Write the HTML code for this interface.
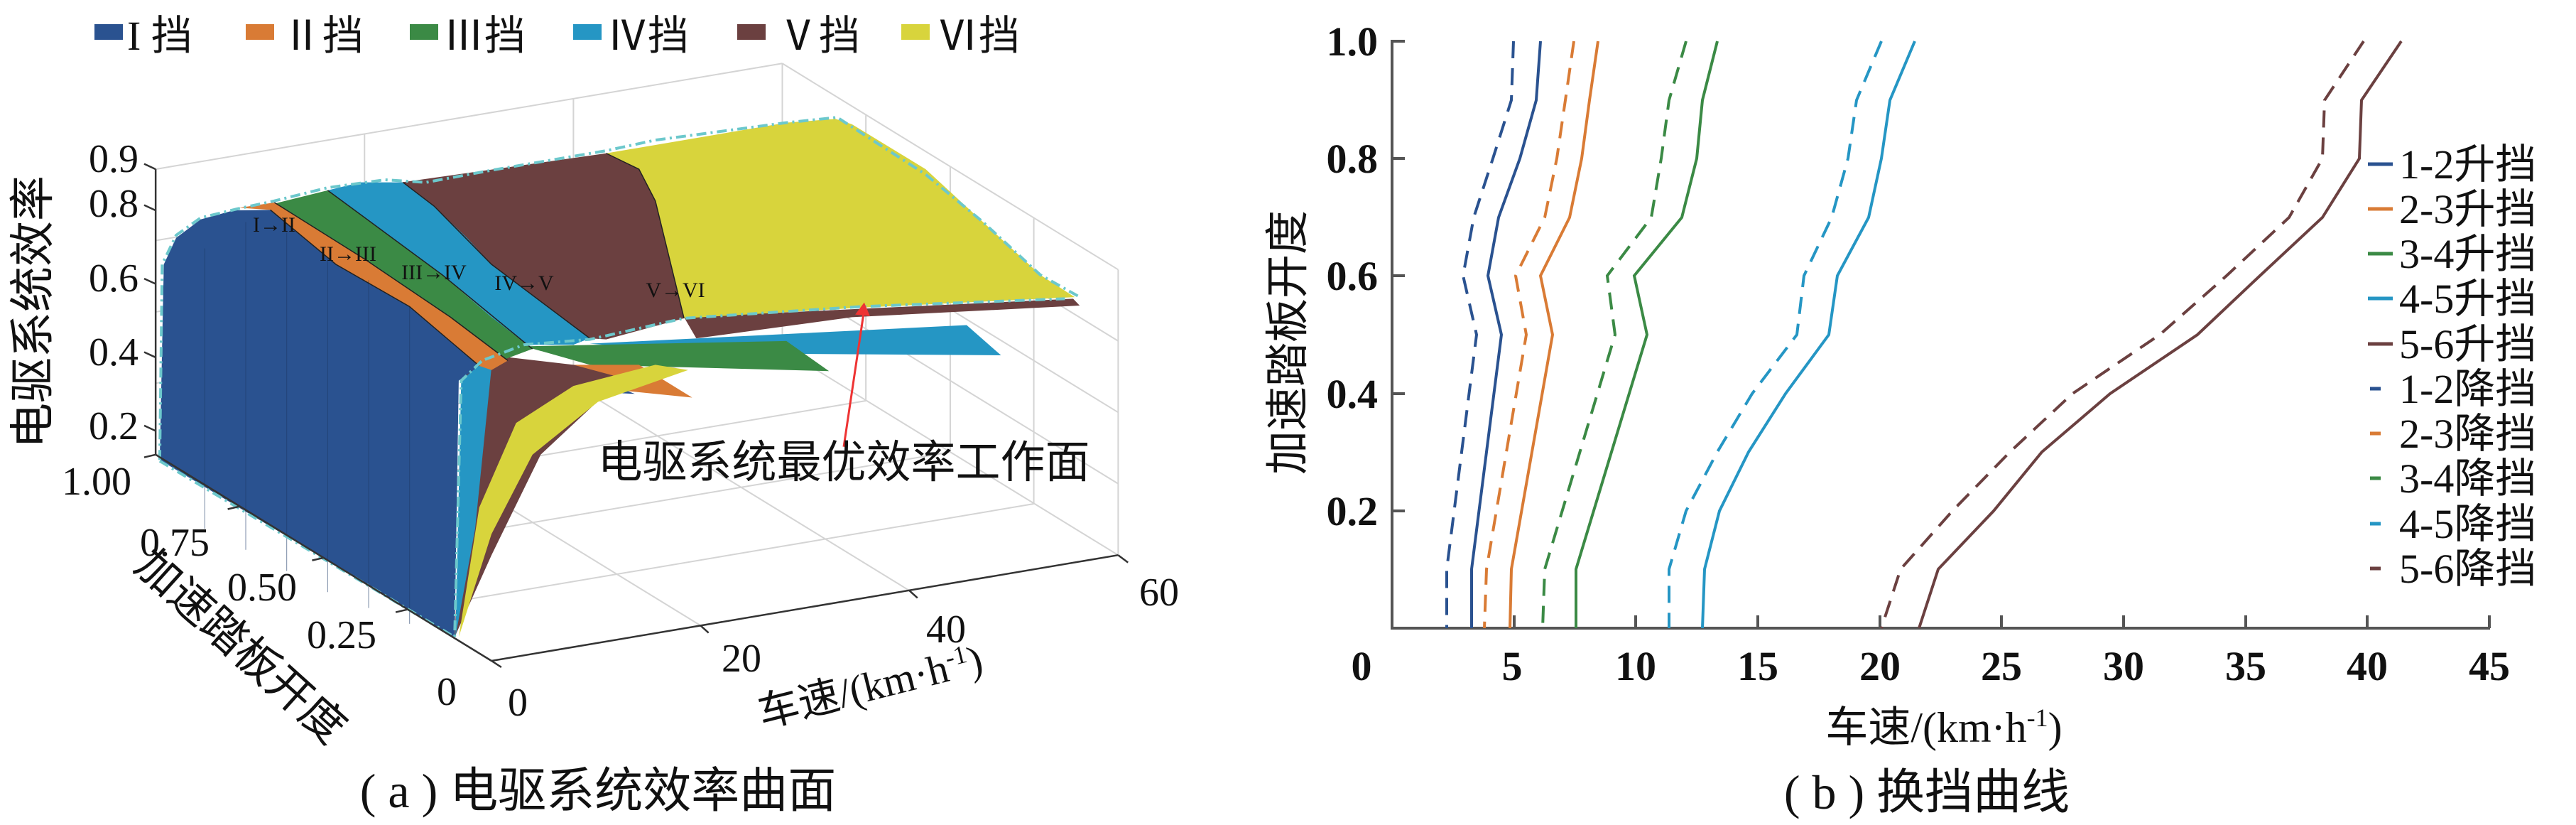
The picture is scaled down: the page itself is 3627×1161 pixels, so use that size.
<!DOCTYPE html>
<html><head><meta charset="utf-8"><style>
html,body{margin:0;padding:0;background:#fff;}
svg{display:block;}
text{font-family:"Liberation Serif","Noto Serif CJK SC","Noto Sans CJK SC",serif;fill:#111;}
.cj{font-family:"Liberation Serif","Noto Sans CJK SC",sans-serif;}
</style></head><body>
<svg width="3627" height="1161" viewBox="0 0 3627 1161" xmlns="http://www.w3.org/2000/svg">
<rect width="3627" height="1161" fill="#fff"/>
<g transform="scale(1.1534,0.744)">
 <g stroke="#d4d4d4" stroke-width="2" fill="none">
  <line x1="190" y1="320" x2="955" y2="120" vector-effect="non-scaling-stroke"/>
  <line x1="955" y1="120" x2="955" y2="660" vector-effect="non-scaling-stroke"/>
  <line x1="955" y1="120" x2="1365" y2="510" vector-effect="non-scaling-stroke"/>
  <line x1="1365" y1="510" x2="1365" y2="1050" vector-effect="non-scaling-stroke"/>
  <line x1="955" y1="660" x2="1365" y2="1050" vector-effect="non-scaling-stroke"/>
  <line x1="190" y1="860" x2="955" y2="660" vector-effect="non-scaling-stroke"/>
  <line x1="445" y1="793" x2="855" y2="1183" vector-effect="non-scaling-stroke"/>
  <line x1="700" y1="727" x2="1110" y2="1117" vector-effect="non-scaling-stroke"/>
  <line x1="445" y1="253" x2="445" y2="793" vector-effect="non-scaling-stroke"/>
  <line x1="700" y1="187" x2="700" y2="727" vector-effect="non-scaling-stroke"/>
  <line x1="292" y1="958" x2="1057" y2="758" vector-effect="non-scaling-stroke"/>
  <line x1="395" y1="1055" x2="1160" y2="855" vector-effect="non-scaling-stroke"/>
  <line x1="497" y1="1153" x2="1262" y2="953" vector-effect="non-scaling-stroke"/>
  <line x1="1057" y1="218" x2="1057" y2="758" vector-effect="non-scaling-stroke"/>
  <line x1="1160" y1="315" x2="1160" y2="855" vector-effect="non-scaling-stroke"/>
  <line x1="1262" y1="413" x2="1262" y2="953" vector-effect="non-scaling-stroke"/>
  <line x1="955" y1="525" x2="1365" y2="915" vector-effect="non-scaling-stroke"/>
  <line x1="955" y1="390" x2="1365" y2="780" vector-effect="non-scaling-stroke"/>
  <line x1="955" y1="255" x2="1365" y2="645" vector-effect="non-scaling-stroke"/>
  <line x1="190" y1="725" x2="955" y2="525" vector-effect="non-scaling-stroke"/>
  <line x1="190" y1="590" x2="955" y2="390" vector-effect="non-scaling-stroke"/>
  <line x1="190" y1="455" x2="955" y2="255" vector-effect="non-scaling-stroke"/>
 </g>
 <polygon points="835,600 1310,565 1318,578 1040,600 850,640" fill="#6b4040"/>
 <polygon points="720,650 1180,615 1222,672 860,668" fill="#2596c4"/>
 <polygon points="640,655 960,645 1012,702 720,690" fill="#3b8a45"/>
 <polygon points="600,690 780,690 845,752 640,720" fill="#d97b35"/>
 <polygon points="600,700 700,700 775,745 640,735" fill="#2a5290"/>
 <polygon points="555,1205 570,700 600,672 700,690 760,715 660,860 600,1050" fill="#6b4040"/>
 <polygon points="556,1205 563,720 585,690 600,695 580,1000" fill="#2596c4"/>
 <polygon points="560,1205 600,1010 650,860 730,760 840,700 800,690 700,730 630,800 585,960" fill="#d8d43c"/>
 <polygon points="740,290 960,232 1020,225 1040,235 1130,320 1200,420 1270,520 1312,562 1050,582 835,602 800,380 780,320" fill="#d8d43c"/>
 <polygon points="490,345 740,290 780,320 800,380 835,602 740,642 720,640 660,570 600,500 530,390" fill="#6b4040"/>
 <polygon points="400,360 440,345 492,345 530,390 570,450 600,500 660,570 720,640 700,652 640,652 600,600 540,520 470,440" fill="#2596c4"/>
 <polygon points="335,385 400,360 470,440 540,520 600,600 650,660 612,682 540,600 445,490" fill="#3b8a45"/>
 <polygon points="292,393 335,383 445,490 550,600 620,682 600,700 585,692 500,580 410,500 330,397" fill="#d97b35"/>
 <polygon points="195,870 200,500 215,450 245,415 285,398 330,397 410,500 500,580 585,692 560,720 555,1205" fill="#2a5290"/>
 <g stroke="#1e3a68" stroke-width="1" fill="none" opacity="0.6">
  <path d="M250,1000 V470" vector-effect="non-scaling-stroke"/><path d="M300,1040 V420" vector-effect="non-scaling-stroke"/>
  <path d="M350,1080 V440" vector-effect="non-scaling-stroke"/><path d="M400,1120 V490" vector-effect="non-scaling-stroke"/>
  <path d="M450,1150 V530" vector-effect="non-scaling-stroke"/><path d="M500,1180 V580" vector-effect="non-scaling-stroke"/>
 </g>
 <g stroke="#222" stroke-width="1.5" fill="none">
  <polyline points="330,397 410,500 500,580 585,692" vector-effect="non-scaling-stroke"/>
  <polyline points="335,383 445,490 550,600 620,682" vector-effect="non-scaling-stroke"/>
  <polyline points="400,360 470,440 540,520 650,660" vector-effect="non-scaling-stroke"/>
  <polyline points="492,345 530,390 600,500 720,640" vector-effect="non-scaling-stroke"/>
  <polyline points="740,290 780,320 800,380 835,602" vector-effect="non-scaling-stroke"/>
 </g>
 <g stroke="#6cc8cc" stroke-width="4" fill="none" stroke-dasharray="14,6,3,6">
  <polyline points="195,870 198,500 215,445 245,412 290,395 335,380 400,355 470,340 520,345 600,322 740,285 800,265 960,232 1022,222 1060,260 1130,330 1200,420 1270,520 1316,560" vector-effect="non-scaling-stroke"/>
  <polyline points="592,680 640,652 720,642 835,602 1050,580 1300,565" vector-effect="non-scaling-stroke"/>
  <polyline points="195,872 555,1205 563,720 590,680" vector-effect="non-scaling-stroke"/>
 </g>
 <g stroke="#333" stroke-width="2.5" fill="none">
  <line x1="190" y1="320" x2="190" y2="860" vector-effect="non-scaling-stroke"/>
  <line x1="190" y1="860" x2="600" y2="1250" vector-effect="non-scaling-stroke"/>
  <line x1="600" y1="1250" x2="1365" y2="1050" vector-effect="non-scaling-stroke"/>
  <line x1="600" y1="1250" x2="612" y2="1262" vector-effect="non-scaling-stroke"/>
  <line x1="855" y1="1183" x2="865" y2="1197" vector-effect="non-scaling-stroke"/>
  <line x1="1110" y1="1117" x2="1120" y2="1131" vector-effect="non-scaling-stroke"/>
  <line x1="1365" y1="1050" x2="1377" y2="1064" vector-effect="non-scaling-stroke"/>
  <line x1="190" y1="860" x2="176" y2="865" vector-effect="non-scaling-stroke"/>
  <line x1="292" y1="958" x2="278" y2="963" vector-effect="non-scaling-stroke"/>
  <line x1="395" y1="1055" x2="381" y2="1060" vector-effect="non-scaling-stroke"/>
  <line x1="497" y1="1153" x2="483" y2="1158" vector-effect="non-scaling-stroke"/>
  <line x1="190" y1="320" x2="176" y2="310" vector-effect="non-scaling-stroke"/>
  <line x1="190" y1="398" x2="176" y2="388" vector-effect="non-scaling-stroke"/>
  <line x1="190" y1="537" x2="176" y2="527" vector-effect="non-scaling-stroke"/>
  <line x1="190" y1="676" x2="176" y2="666" vector-effect="non-scaling-stroke"/>
  <line x1="190" y1="815" x2="176" y2="805" vector-effect="non-scaling-stroke"/>
 </g>
 <line x1="1030" y1="845" x2="1055" y2="585" stroke="#e33" stroke-width="3" vector-effect="non-scaling-stroke"/>
 <polygon points="1044,595 1055,572 1062,598" fill="#e33"/>
</g>
<g font-size="58">
 <rect x="133" y="34" width="40" height="22" fill="#2a5290"/><text x="179" y="70" class="cj">I 挡</text>
 <rect x="346" y="34" width="40" height="22" fill="#d97b35"/><text x="396" y="70" class="cj">Ⅱ挡</text>
 <rect x="577" y="34" width="40" height="22" fill="#3b8a45"/><text x="624" y="70" class="cj">Ⅲ挡</text>
 <rect x="807" y="34" width="40" height="22" fill="#2596c4"/><text x="854" y="70" class="cj">Ⅳ挡</text>
 <rect x="1038" y="34" width="40" height="22" fill="#6b4040"/><text x="1095" y="70" class="cj">Ⅴ挡</text>
 <rect x="1269" y="34" width="40" height="22" fill="#d8d43c"/><text x="1320" y="70" class="cj">Ⅵ挡</text>
</g>
<g font-size="56" text-anchor="end">
 <text x="195" y="242">0.9</text><text x="195" y="305">0.8</text><text x="195" y="410">0.6</text>
 <text x="195" y="514">0.4</text><text x="195" y="618">0.2</text>
 <text x="185" y="696">1.00</text><text x="295" y="782">0.75</text><text x="418" y="845">0.50</text>
 <text x="530" y="912">0.25</text>
</g>
<g font-size="56" text-anchor="middle">
 <text x="629" y="992">0</text><text x="729" y="1007">0</text><text x="1044" y="945">20</text>
 <text x="1332" y="904">40</text><text x="1632" y="852">60</text>
</g>
<g font-size="30" text-anchor="middle">
 <text x="386" y="326">I→II</text><text x="490" y="367">II→III</text><text x="611" y="393">III→IV</text>
 <text x="738" y="408">IV→V</text><text x="951" y="418">V→VI</text>
</g>
<text class="cj" x="1188" y="672" font-size="63" text-anchor="middle">电驱系统最优效率工作面</text>
<text class="cj" font-size="64" text-anchor="middle" transform="translate(68,439) rotate(-90)">电驱系统效率</text>
<text class="cj" font-size="62" text-anchor="middle" transform="translate(325,925) rotate(42)">加速踏板开度</text>
<text class="cj" font-size="58" text-anchor="middle" transform="translate(1230,985) rotate(-14)">车速/(km·h<tspan font-size="36" dy="-20">-1</tspan><tspan dy="20">)</tspan></text>
<text class="cj" x="842" y="1136" font-size="68" text-anchor="middle">( a ) 电驱系统效率曲面</text>

<g stroke="#555" stroke-width="4" fill="none">
 <line x1="1960" y1="56" x2="1960" y2="886"/>
 <line x1="1958" y1="884" x2="3506" y2="884"/>
 <line x1="1960" y1="58" x2="1978" y2="58"/><line x1="1960" y1="223" x2="1978" y2="223"/>
 <line x1="1960" y1="388" x2="1978" y2="388"/><line x1="1960" y1="554" x2="1978" y2="554"/>
 <line x1="1960" y1="719" x2="1978" y2="719"/>
 <line x1="2132" y1="884" x2="2132" y2="866"/><line x1="2303" y1="884" x2="2303" y2="866"/>
 <line x1="2475" y1="884" x2="2475" y2="866"/><line x1="2647" y1="884" x2="2647" y2="866"/>
 <line x1="2818" y1="884" x2="2818" y2="866"/><line x1="2990" y1="884" x2="2990" y2="866"/>
 <line x1="3162" y1="884" x2="3162" y2="866"/><line x1="3333" y1="884" x2="3333" y2="866"/>
 <line x1="3505" y1="884" x2="3505" y2="866"/>
</g>
<g font-size="58" font-weight="bold" text-anchor="end">
 <text x="1940" y="78">1.0</text><text x="1940" y="243">0.8</text><text x="1940" y="408">0.6</text>
 <text x="1940" y="574">0.4</text><text x="1940" y="739">0.2</text>
</g>
<g font-size="58" font-weight="bold" text-anchor="middle">
 <text x="1917" y="957">0</text><text x="2129" y="957">5</text><text x="2303" y="957">10</text>
 <text x="2475" y="957">15</text><text x="2647" y="957">20</text><text x="2818" y="957">25</text>
 <text x="2990" y="957">30</text><text x="3162" y="957">35</text><text x="3333" y="957">40</text>
 <text x="3505" y="957">45</text>
</g>
<g fill="none" stroke-width="4">
 <polyline stroke="#2a5290" points="2169,58 2163,141 2140,223 2110,306 2095,388 2114,471 2072,801 2072,884"/>
 <polyline stroke="#2a5290" stroke-dasharray="24,14" points="2131,58 2128,141 2102,223 2075,306 2060,388 2079,471 2037,801 2037,884"/>
 <polyline stroke="#d97b35" points="2250,58 2238,141 2227,223 2210,306 2169,388 2186,471 2128,801 2126,884"/>
 <polyline stroke="#d97b35" stroke-dasharray="24,14" points="2216,58 2204,141 2192,223 2175,306 2134,388 2149,471 2093,801 2090,884"/>
 <polyline stroke="#3b8a45" points="2418,58 2397,141 2389,223 2368,306 2301,388 2319,471 2219,801 2219,884"/>
 <polyline stroke="#3b8a45" stroke-dasharray="24,14" points="2374,58 2350,141 2339,223 2325,306 2263,388 2274,471 2175,801 2172,884"/>
 <polyline stroke="#2596c4" points="2696,58 2661,141 2649,223 2631,306 2587,388 2575,471 2514,554 2462,636 2421,719 2400,801 2397,884"/>
 <polyline stroke="#2596c4" stroke-dasharray="24,14" points="2649,58 2614,141 2602,223 2579,306 2540,388 2530,471 2467,554 2418,636 2374,719 2350,801 2350,884"/>
 <polyline stroke="#6b4040" points="3381,58 3325,141 3322,223 3270,306 3182,388 3094,471 2971,554 2875,636 2807,719 2729,801 2702,884"/>
 <polyline stroke="#6b4040" stroke-dasharray="24,14" points="3328,58 3273,141 3270,223 3223,306 3135,388 3041,471 2918,554 2830,636 2749,719 2676,801 2649,884"/>
</g>
<g stroke-width="5">
 <line x1="3334" y1="231" x2="3369" y2="231" stroke="#2a5290"/>
 <line x1="3334" y1="294" x2="3369" y2="294" stroke="#d97b35"/>
 <line x1="3334" y1="357" x2="3369" y2="357" stroke="#3b8a45"/>
 <line x1="3334" y1="420" x2="3369" y2="420" stroke="#2596c4"/>
 <line x1="3334" y1="484" x2="3369" y2="484" stroke="#6b4040"/>
 <line x1="3337" y1="547" x2="3352" y2="547" stroke="#2a5290"/>
 <line x1="3337" y1="610" x2="3352" y2="610" stroke="#d97b35"/>
 <line x1="3337" y1="673" x2="3352" y2="673" stroke="#3b8a45"/>
 <line x1="3337" y1="737" x2="3352" y2="737" stroke="#2596c4"/>
 <line x1="3337" y1="800" x2="3352" y2="800" stroke="#6b4040"/>
</g>
<g font-size="58">
 <text x="3378" y="251" class="cj">1-2升挡</text><text x="3378" y="314" class="cj">2-3升挡</text>
 <text x="3378" y="377" class="cj">3-4升挡</text><text x="3378" y="440" class="cj">4-5升挡</text>
 <text x="3378" y="504" class="cj">5-6升挡</text><text x="3378" y="567" class="cj">1-2降挡</text>
 <text x="3378" y="630" class="cj">2-3降挡</text><text x="3378" y="693" class="cj">3-4降挡</text>
 <text x="3378" y="757" class="cj">4-5降挡</text><text x="3378" y="820" class="cj">5-6降挡</text>
</g>
<text class="cj" font-size="62" text-anchor="middle" transform="translate(1834,482) rotate(-90)">加速踏板开度</text>
<text class="cj" x="2737" y="1044" font-size="60" text-anchor="middle">车速/(km·h<tspan font-size="36" dy="-22">-1</tspan><tspan dy="22">)</tspan></text>
<text class="cj" x="2713" y="1138" font-size="68" text-anchor="middle">( b ) 换挡曲线</text>
</svg>
</body></html>
